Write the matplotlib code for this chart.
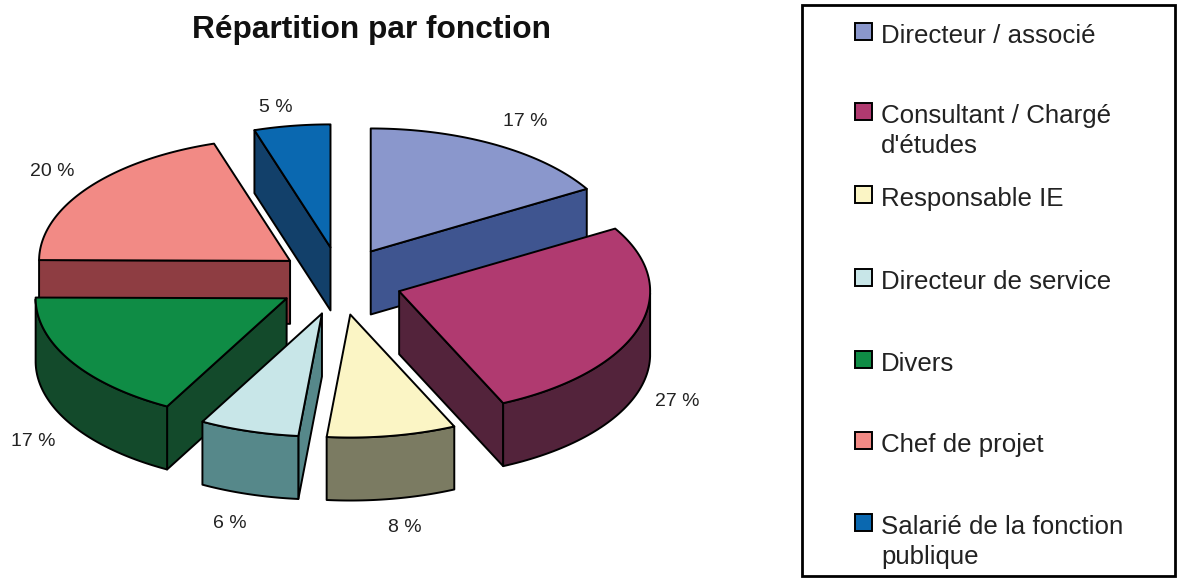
import numpy as np
import matplotlib
matplotlib.use("Agg")
import matplotlib.pyplot as plt
from matplotlib.patches import Polygon, Rectangle

plt.rcParams['font.family'] = ['Liberation Sans', 'DejaVu Sans']

TITLE = "Répartition par fonction"
categories = ["Directeur / associé", "Consultant / Chargé\nd'études", "Responsable IE",
              "Directeur de service", "Divers", "Chef de projet",
              "Salarié de la fonction\npublique"]
values = [16.5, 26.7, 8.3, 6.4, 17.2, 20.0, 4.9]
percent_labels = ["17 %", "27 %", "8 %", "6 %", "17 %", "20 %", "5 %"]
top_colors = ["#8A97CC", "#B03A70", "#FBF5C5", "#C8E6E8", "#0F8C45", "#F28A85", "#0A68B0"]
side_colors = ["#3F5590", "#53233B", "#7B7B62", "#56888A", "#134A2B", "#8E3D42", "#12406A"]
label_xy = [(525, 122), (677, 401), (405, 527), (230, 523), (33, 442), (52, 172), (276, 107)]
legend_rows = [35, 115, 198, 281, 363, 444, 526]

W, H = 1179, 578
CX, CY = 340, 281      # pie centre, pixels
RX, RY = 251, 123      # rim ellipse radii
DEPTH = 63
EX, EY = 62, 34        # explode offset

fig = plt.figure(figsize=(W / 100, H / 100), dpi=100, facecolor="white")
ax = fig.add_axes([0, 0, 1, 1])
ax.set_xlim(0, W)
ax.set_ylim(H, 0)
ax.axis("off")

fr = np.array(values) / np.sum(values) * 360
ends = np.cumsum(fr)
starts = ends - fr
mids = (starts + ends) / 2


def rim(t0, t1, ox, oy):
    t = np.radians(np.linspace(t0, t1, 80))
    return np.column_stack([ox + RX * np.sin(t), oy - RY * np.cos(t)])


apex = [(CX + EX * np.sin(np.radians(m)), CY - EY * np.cos(np.radians(m))) for m in mids]
order = np.argsort([a[1] for a in apex])
down = np.array([0, DEPTH])
for z, i in enumerate(order):
    ox, oy = apex[i]
    p = rim(starts[i], ends[i], ox, oy)
    a = np.array([ox, oy])
    kw = dict(edgecolor="black", linewidth=1.4, joinstyle="round", zorder=10 + z)
    # radial faces and outer wall (only the faces turned to the viewer)
    if np.cos(np.radians(starts[i] - 90)) < 0:
        ax.add_patch(Polygon([a, p[0], p[0] + down, a + down], facecolor=side_colors[i], **kw))
    if np.cos(np.radians(ends[i] + 90)) < 0:
        ax.add_patch(Polygon([a, p[-1], p[-1] + down, a + down], facecolor=side_colors[i], **kw))
    front = np.cos(np.radians(np.linspace(starts[i], ends[i], 80))) < 0
    if front.any():
        q = p[front]
        ax.add_patch(Polygon(np.vstack([q, (q + down)[::-1]]), facecolor=side_colors[i], **kw))
    ax.add_patch(Polygon(np.vstack([a, p]), facecolor=top_colors[i], **kw))

for (x, y), s in zip(label_xy, percent_labels):
    ax.text(x, y, s, ha="center", va="center", fontsize=14, color="#222222", zorder=40)

ax.text(372, 30, TITLE, ha="center", va="center", fontsize=22.8, fontweight="bold", color="#111111")

ax.add_patch(Rectangle((802, 5), 373, 571, facecolor="white", edgecolor="black", linewidth=2, zorder=30))
for y, name, c in zip(legend_rows, categories, top_colors):
    ax.add_patch(Rectangle((855, y - 12), 17, 17, facecolor=c, edgecolor="black", linewidth=1.4, zorder=31))
    ax.text(881, y - 11, name, ha="left", va="top", fontsize=18.6, color="#222222",
            linespacing=1.3, zorder=32)

fig.savefig("out.png", dpi=100)
